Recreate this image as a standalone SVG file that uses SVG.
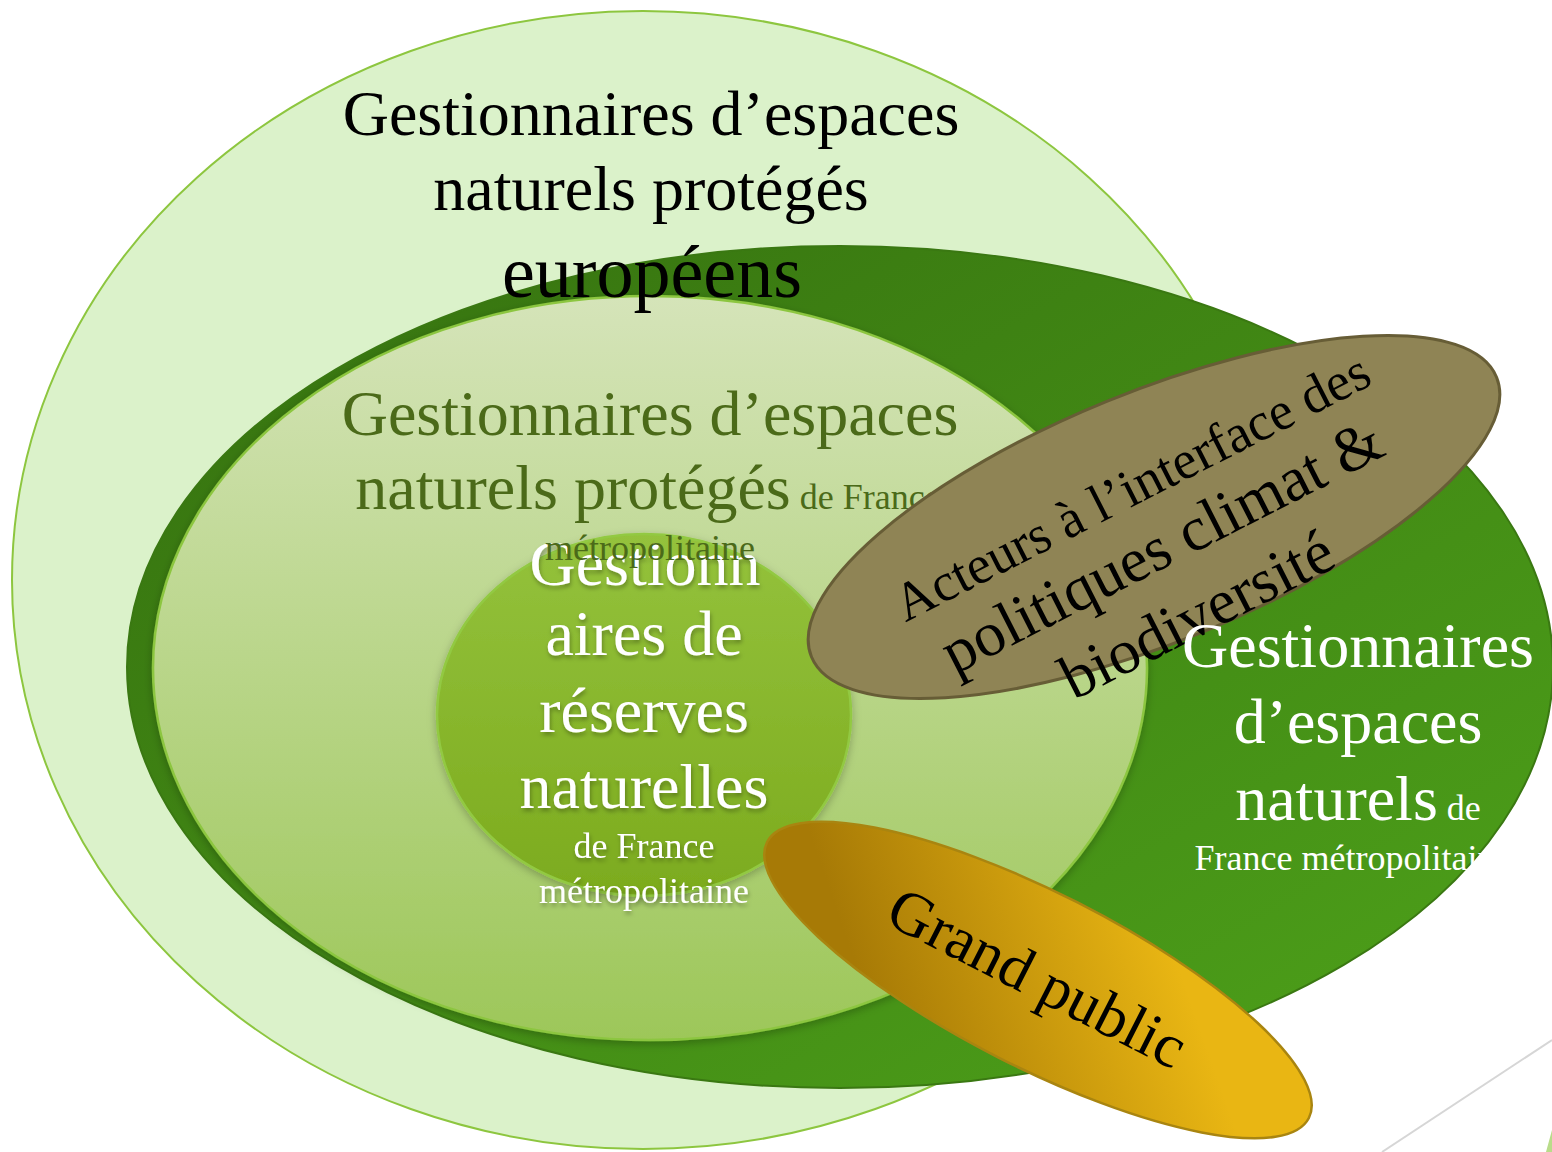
<svg xmlns="http://www.w3.org/2000/svg" width="1552" height="1152" viewBox="0 0 1552 1152">
<defs>
<linearGradient id="gDark" x1="0" y1="0" x2="1" y2="1">
<stop offset="0" stop-color="#35700f"/>
<stop offset="1" stop-color="#4ea21a"/>
</linearGradient>
<linearGradient id="gMid" x1="0" y1="0" x2="0" y2="1">
<stop offset="0" stop-color="#d5e4b9"/>
<stop offset="1" stop-color="#9dc759"/>
</linearGradient>
<linearGradient id="gInner" x1="0" y1="0" x2="0" y2="1">
<stop offset="0" stop-color="#94c23c"/>
<stop offset="1" stop-color="#7cab1e"/>
</linearGradient>
<linearGradient id="gGold" gradientUnits="userSpaceOnUse" x1="880" y1="1060" x2="1090" y2="840">
<stop offset="0" stop-color="#a77a06"/>
<stop offset="1" stop-color="#e9b613"/>
</linearGradient>
<filter id="shadow" x="-10%" y="-10%" width="120%" height="120%">
<feDropShadow dx="0" dy="3" stdDeviation="4" flood-color="#000" flood-opacity="0.25"/>
</filter>
<filter id="tshadow" x="-10%" y="-10%" width="120%" height="130%">
<feDropShadow dx="1" dy="3" stdDeviation="2" flood-color="#000" flood-opacity="0.3"/>
</filter>
<style>
text{font-family:"Liberation Serif","Times New Roman",serif;}
.big{font-size:64px;}
.small{font-size:36px;}
.c{text-anchor:middle;}
.w{fill:#ffffff;}
.k{fill:#000000;}
.o{fill:#4b6a19;}
</style>
</defs>
<rect width="1552" height="1152" fill="#ffffff"/>
<line x1="1382" y1="1152" x2="1552" y2="1040" stroke="#d6d6d6" stroke-width="2"/>
<polygon points="1552,1130 1546,1152 1552,1152" fill="#b9dc8a"/>

<g id="node-europe">
<ellipse cx="643" cy="580" rx="631" ry="569" fill="#dbf2ca" stroke="#8dc63f" stroke-width="2"/>
</g>
<g id="node-france">
<ellipse cx="840" cy="667" rx="713" ry="421" fill="url(#gDark)" stroke="#3a7812" stroke-width="2"/>
</g>
<g id="node-protected">
<ellipse cx="650" cy="668" rx="497" ry="372" fill="url(#gMid)" stroke="#8cc63f" stroke-width="2.5" filter="url(#shadow)"/>
</g>
<g id="node-reserves">
<ellipse cx="644" cy="715" rx="207" ry="181" fill="url(#gInner)" stroke="#92c942" stroke-width="2.5" filter="url(#shadow)"/>
</g>

<g id="label-europe" class="k c">
<text x="651" y="135" class="big">Gestionnaires d’espaces</text>
<text x="651" y="210" class="big">naturels protégés</text>
<text x="652" y="297" style="font-size:74px">européens</text>
</g>
<g id="label-reserves" class="w c" filter="url(#tshadow)">
<text x="645" y="585" class="big">Gestionn</text>
<text x="644" y="655" class="big">aires de</text>
<text x="644" y="732" class="big">réserves</text>
<text x="644" y="808" class="big">naturelles</text>
<text x="644" y="858" class="small">de France</text>
<text x="644" y="903" class="small">métropolitaine</text>
</g>
<g id="label-protected" class="o c">
<text x="650" y="435" class="big">Gestionnaires d’espaces</text>
<text x="648" y="509" class="big">naturels protégés<tspan class="small"> de France</tspan></text>
<text x="650" y="560" class="small">métropolitaine</text>
</g>

<g id="node-acteurs">
<ellipse cx="1154" cy="517" rx="370" ry="125" transform="rotate(-22.2 1154 517)" fill="#8f8455" stroke="#675d36" stroke-width="3"/>
<g transform="translate(1140 503) rotate(-27)" class="k c">
<text x="0" y="0" style="font-size:54px">Acteurs à l’interface des</text>
<text x="0" y="69" style="font-size:63px">politiques climat &amp;</text>
<text x="0" y="146" style="font-size:63px">biodiversité</text>
</g>
</g>

<g id="label-france" class="w c">
<text x="1358" y="667" class="big">Gestionnaires</text>
<text x="1358" y="743" class="big">d’espaces</text>
<text x="1358" y="820" class="big">naturels<tspan class="small"> de</tspan></text>
<text x="1353" y="870" class="small">France métropolitaine</text>
</g>

<g id="node-public">
<ellipse cx="1038" cy="980" rx="304" ry="87" transform="rotate(27 1038 980)" fill="url(#gGold)" stroke="#a98510" stroke-width="2.5"/>
<text x="0" y="0" transform="translate(1028 996) rotate(27)" class="k c" style="font-size:62px">Grand public</text>
</g>

<g id="connectors"></g>
</svg>
